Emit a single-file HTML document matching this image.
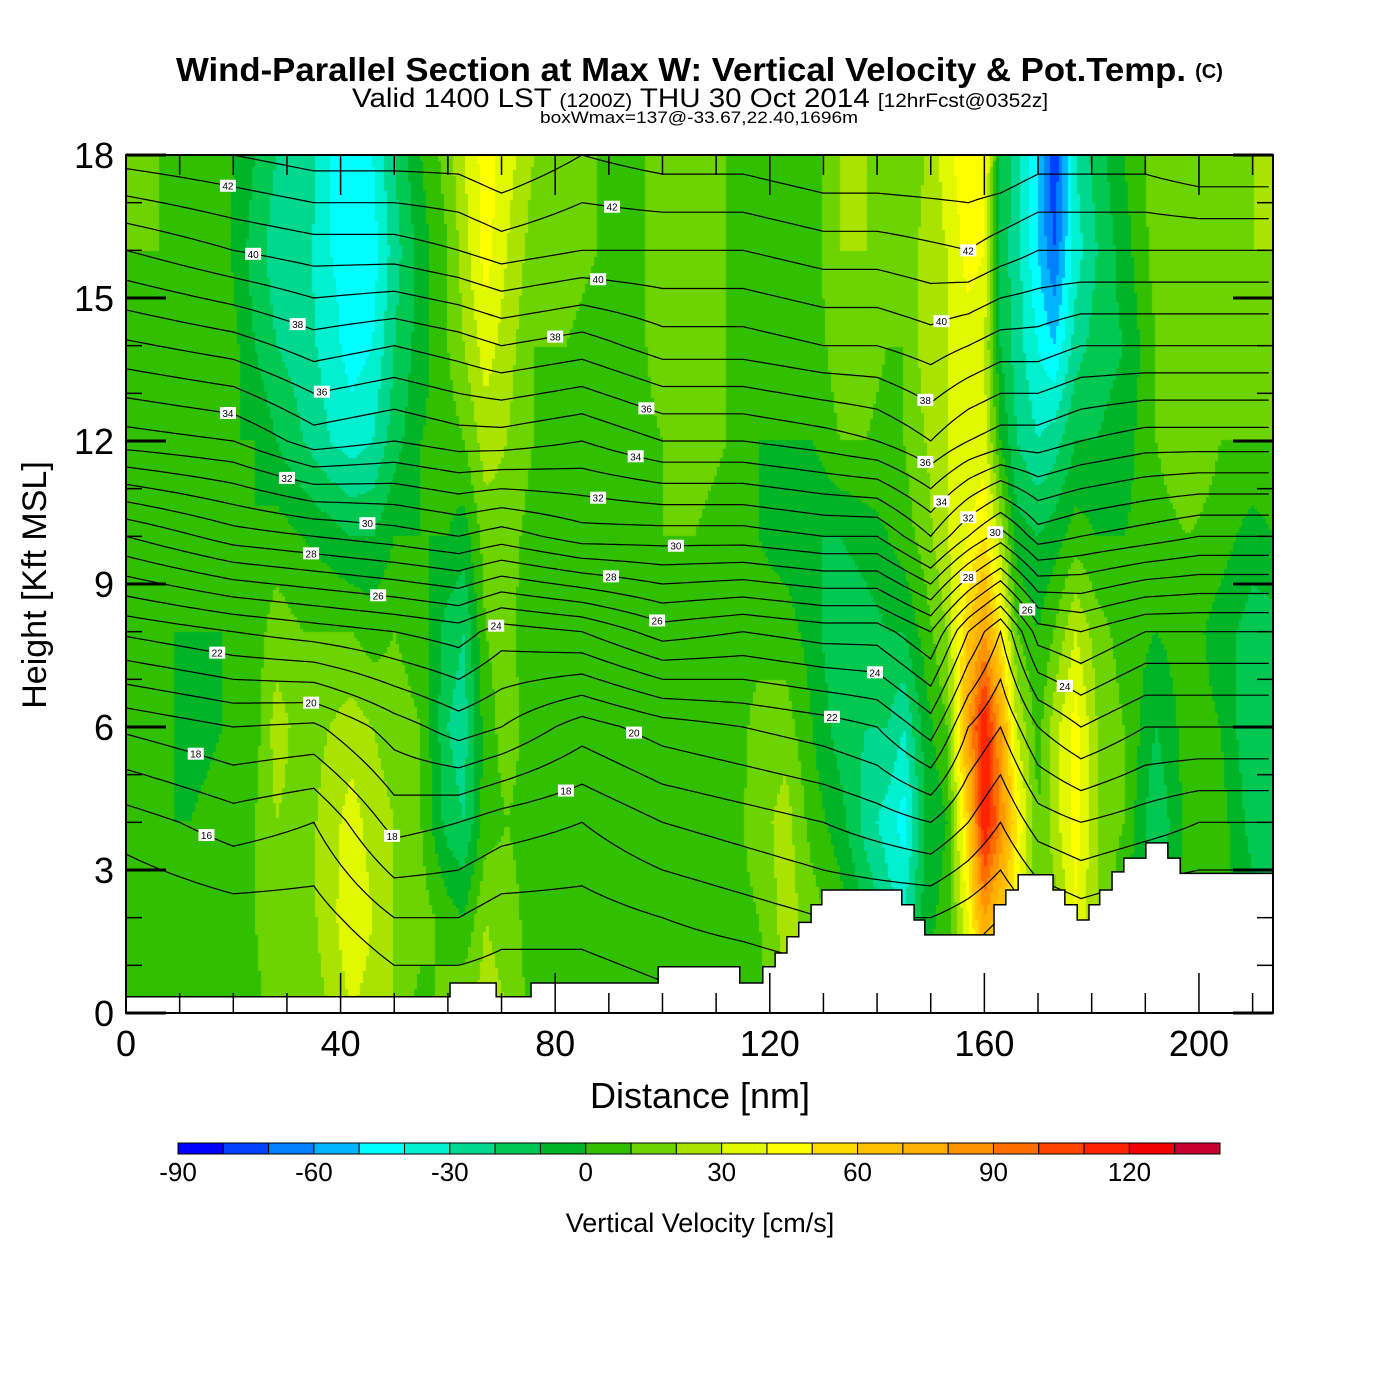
<!DOCTYPE html>
<html><head><meta charset="utf-8"><style>
body{margin:0;background:#fff;width:1400px;height:1400px;overflow:hidden;font-family:"Liberation Sans",sans-serif}
#wrap{position:relative;width:1400px;height:1400px}
canvas{position:absolute;left:126px;top:155px}
svg{position:absolute;left:0;top:0}
</style></head><body><div id="wrap">
<canvas id="cv" width="1147" height="858"></canvas>
<svg id="sv" width="1400" height="1400"></svg>
</div>
<script>
// ---- data ----
const wDist=[0,6,12,18,24,28,33,38,42,46,50,55,60,63,67,71,76,82,88,94,100,106,112,118,123,128,133,138,142,145,149,153,157,160,163,166,170,173,177,181,186,192,198,204,210,214];
const wHeights=[0,2,4,6,8,10,12,14,16,18];
const wCols=[
[5,0,5,5,0,0,5,10,10,15],[5,0,0,5,0,5,5,5,10,10],[3,0,0,-5,0,0,5,5,5,10],[5,5,5,0,0,0,0,10,5,5],
[5,10,10,5,5,0,0,-10,-15,-10],[20,20,20,25,15,5,-10,-20,-25,-20],[15,15,15,15,10,0,-20,-25,-25,-20],
[20,25,25,20,10,-5,-30,-35,-40,-40],[30,40,35,25,10,-10,-35,-45,-45,-40],[25,30,25,20,5,-10,-30,-40,-45,-40],
[20,20,20,15,10,0,-15,-20,-25,-20],[5,15,10,10,5,0,0,-5,-5,0],[15,5,-15,-20,-15,0,5,10,10,15],
[20,0,-20,-25,-20,-5,10,20,25,30],[25,20,5,5,10,15,25,35,45,45],[20,15,10,15,15,15,20,25,30,35],
[5,5,5,5,0,5,10,10,15,20],[0,5,0,5,5,0,5,10,15,20],[0,5,5,0,0,0,0,5,10,10],[0,0,0,5,0,0,5,5,5,5],
[5,5,5,5,5,10,10,15,15,15],[0,5,5,5,5,10,15,15,15,15],[0,5,5,0,5,5,10,10,10,10],[5,10,15,15,5,0,0,5,5,5],
[20,25,25,15,5,-5,0,5,5,5],[15,15,5,0,-5,-10,0,5,5,5],[10,5,-5,-15,-20,-10,10,15,20,20],
[10,-10,-25,-20,-15,-5,10,15,20,20],[10,-25,-35,-20,-10,0,5,10,15,15],[5,-30,-45,-30,-10,5,10,10,10,10],
[5,-5,-10,-5,5,15,20,25,25,20],[5,5,0,10,20,30,30,30,30,35],[20,40,60,80,60,40,30,35,45,50],
[40,80,120,120,80,50,35,30,40,45],[30,60,90,80,50,25,0,-10,-15,-10],[20,40,50,30,10,-5,-20,-25,-25,-25],
[10,15,10,5,0,-10,-30,-40,-50,-50],[5,15,25,25,10,-5,-25,-50,-70,-80],[5,40,45,45,30,5,-10,-25,-35,-30],
[5,20,20,20,15,0,-10,-15,-20,-15],[0,0,10,10,5,0,-5,-10,-5,0],[5,-15,-20,-10,0,5,10,10,15,15],
[5,5,5,5,5,10,20,20,20,15],[5,5,5,0,-5,5,10,15,15,15],[5,-5,-15,-20,-15,-5,10,15,20,20],[5,-10,-15,-20,-15,0,10,20,20,20]];
const thDist=[0,20,35,50,62,70,85,100,115,130,140,150,157,163,170,178,190,200,214];
const thCols=[
[12.5,14,15.5,18.2,22.2,27,32.5,35.8,39,42.5],[13,14.5,16.5,19,23,28.5,33,36.5,40,43],
[13,14.5,16,18.8,23.5,29,34.5,37.5,40.5,43.5],[14,16,18.4,20.5,24,29.5,34,37,40.5,43.5],
[14,16,18,21.5,24.5,30,34.5,37.5,41,43.5],[14,15.5,17.5,21,23.5,29.5,34.5,38,41.5,44],
[14,15.5,17,19.5,24,30.5,34,37.5,41,43],[14.5,16,18,20.5,25.5,30.5,35,38.5,41,43.5],
[14.5,16.5,18.5,21,25,30.5,35,38.5,41,43.5],[15,17,19,21.5,25.5,31,35.5,39,41.5,44],
[15,17,19.5,22,25.5,31,36,39,41.5,44],[15,17,20,23.5,27,33,37,39.5,41.8,44],
[15,16.5,19,21,24,31,36,39,42,44],[14.5,16,18,20,22,29.5,35.5,38.5,41.5,44],
[15,17,19.5,22,25.5,31.5,35.5,38.5,41,43.5],[15,17.5,20,23,26,31,35,38,41,43.5],
[15,17,19.5,22,25,30.5,34.5,38,41,43.5],[15,17,19,22,25,30,34.5,38,41,44],[15,17,19,22,25,30,34.5,38,41,44]];
const thLevels=[15,16,17,18,19,20,21,22,23,24,25,26,27,28,29,30,31,32,33,34,35,36,37,38,39,40,41,42,43];
const labelLevels=[42,42,42,40,40,40,38,38,38,36,36,36,34,34,34,32,32,32,30,30,30,28,28,28,26,26,26,24,24,24,22,22,20,20,18,18,18,16];
const labelDist=[19,90.6,157,23.7,88,152,32,80,149,36.5,97,149,19,95,152,30,88,157,45,102.5,162,34.5,90.4,157,47,99,168,69,139.6,175,17,131.6,34.5,94.7,13,82,49.6,15];
const terrEdges=[0,60.4,69,75.5,99.2,114.4,118.7,121,123.2,125.4,127.7,129.7,134,144.6,146.9,148.9,161.8,164,166.3,172.8,175,177.3,179.5,181.5,183.8,186,190.1,194.2,196.5,213.8];
const terrH=[0.34,0.63,0.34,0.63,0.97,0.63,0.97,1.26,1.6,1.9,2.27,2.58,2.58,2.27,1.95,1.64,2.27,2.58,2.9,2.58,2.27,1.95,2.27,2.58,2.96,3.25,3.57,3.25,2.93];
const cbColors=['#0000ff','#0040ff','#0080ff','#00b4ff','#00ffff','#00f0d0','#00d890','#00c850','#00b428','#30c000','#6cd400','#a8e400','#e0f800','#ffff00','#ffdc00','#ffc000','#ffb000','#ff9400','#ff6e00','#ff4400','#ff2400','#f00000','#c80030'];
const cbTicks=[-90,-60,-30,0,30,60,90,120];
const xTicks=[0,40,80,120,160,200];
const yTicks=[0,3,6,9,12,15,18];
// ---- axes ----
const X0=126,X1=1273,Y0=1013,Y1=155,XMAX=213.8,ZMAX=18;
const sx=d=>X0+d/XMAX*(X1-X0), sy=z=>Y0-z/ZMAX*(Y0-Y1);
const cbx=v=>178+(v+90)/230*(1220-178);
function interp1(xs,ys,x){if(x<=xs[0])return ys[0];for(let i=1;i<xs.length;i++){if(x<=xs[i]){const t=(x-xs[i-1])/(xs[i]-xs[i-1]);return ys[i-1]+t*(ys[i]-ys[i-1]);}}return ys[ys.length-1];}
function field(dists,cols,d,z){
 let i=0;while(i<dists.length-2&&d>dists[i+1])i++;
 const t=Math.max(0,Math.min(1,(d-dists[i])/(dists[i+1]-dists[i])));
 const a=interp1(wHeights,cols[i],z),b=interp1(wHeights,cols[i+1],z);return a+t*(b-a);}
// heatmap
const cv=document.getElementById('cv'),ctx=cv.getContext('2d');
const STEP=3;
for(let py=0;py<858;py+=STEP){const z=ZMAX*(1-(py+STEP/2)/858);
 for(let px=0;px<1147;px+=STEP){const d=XMAX*(px+STEP/2)/1147;
  const w=field(wDist,wCols,d,z);let k=Math.floor((w+90)/10);k=Math.max(0,Math.min(22,k));
  ctx.fillStyle=cbColors[k];ctx.fillRect(px,py,STEP,STEP);}}
// svg
const NS='http://www.w3.org/2000/svg',sv=document.getElementById('sv');
function mk(t,a,p){const e=document.createElementNS(NS,t);for(const k in a)e.setAttribute(k,a[k]);(p||sv).appendChild(e);return e;}
const gC=mk('g',{});


function levelZ(d,lev){let col=[];for(let j=0;j<10;j++)col.push(field(thDist,thCols,d,wHeights[j]));
 for(let j=1;j<10;j++){if(lev<=col[j]){const t=(lev-col[j-1])/(col[j]-col[j-1]);return wHeights[j-1]+2*Math.max(0,Math.min(1,t));}}return null;}
thLevels.forEach(lev=>{let pts=[];for(let d=0;d<=XMAX;d+=1){const z=levelZ(d,lev);if(z!==null)pts.push(sx(d).toFixed(1)+','+sy(z).toFixed(1));}
 const p=mk('polyline',{points:pts.join(' '),fill:'none',stroke:'#000','stroke-width':1.2},gC);
 
 });
// terrain
let tp=[sx(0)+','+Y0];for(let i=0;i<terrH.length;i++){tp.push(sx(terrEdges[i])+','+sy(terrH[i]));tp.push(sx(terrEdges[i+1])+','+sy(terrH[i]));}tp.push(sx(XMAX)+','+Y0);
const ter=mk('polygon',{points:tp.join(' '),fill:'#fff',stroke:'#000','stroke-width':1.5});


// labels
labelLevels.forEach((lev,i)=>{const d=labelDist[i];const z=levelZ(d,lev);if(z===null)return;
 const g=mk('g',{});
 
 
 mk('rect',{x:sx(d)-8,y:sy(z)-6,width:16,height:12,fill:'#fff'},g);
 const t=mk('text',{x:sx(d),y:sy(z)+4,'font-size':10,'text-anchor':'middle','font-family':'Liberation Sans'},g);t.textContent=lev;});
// frame & ticks
const fr=mk('rect',{x:X0,y:Y1,width:X1-X0,height:Y0-Y1,fill:'none',stroke:'#000','stroke-width':2});


for(let d=0;d<=XMAX;d+=10){const L=d%40===0?40:20;
 mk('line',{x1:sx(d),x2:sx(d),y1:Y0,y2:Y0-L,stroke:'#000','stroke-width':1.5});
 mk('line',{x1:sx(d),x2:sx(d),y1:Y1,y2:Y1+L,stroke:'#000','stroke-width':1.5});}
for(let z=0;z<=18;z+=1){const L=z%3===0?40:16;
 mk('line',{x1:X0,x2:X0+L,y1:sy(z),y2:sy(z),stroke:'#000','stroke-width':z%3===0?3:1.5});
 mk('line',{x1:X1,x2:X1-L,y1:sy(z),y2:sy(z),stroke:'#000','stroke-width':z%3===0?3:1.5});}
xTicks.forEach(v=>{const t=mk('text',{x:sx(v),y:1056,'font-size':36,'text-anchor':'middle'});t.textContent=v;
 
 });
yTicks.forEach(v=>{const t=mk('text',{x:114,y:sy(v)+13,'font-size':36,'text-anchor':'end'});t.textContent=v;
 
 });
function txt(x,y,s,str,name,extra){const t=mk('text',Object.assign({x:x,y:y,'font-size':s,'text-anchor':'middle'},extra||{}));t.textContent=str;
 
 return t;}
txt(700,1108,36,'Distance [nm]','x-axis-title');
txt(46,585,34,'Height [Kft MSL]','y-axis-title',{transform:'rotate(-90 46 585)'});
txt(176,81,33,'Wind-Parallel Section at Max W: Vertical Velocity & Pot.Temp.','chart-title',{'font-weight':'bold','text-anchor':'start',textLength:1010,lengthAdjust:'spacingAndGlyphs'});
txt(1209,78,20,'(C)','copyright',{'font-weight':'bold'});
const st=mk('text',{x:352,y:107,'font-size':27,'text-anchor':'start',textLength:696,lengthAdjust:'spacingAndGlyphs'});


st.innerHTML='Valid 1400 LST <tspan font-size="19">(1200Z)</tspan> THU 30 Oct 2014 <tspan font-size="19">[12hrFcst@0352z]</tspan>';
txt(540,123,17,'boxWmax=137@-33.67,22.40,1696m','box-wmax-note',{'text-anchor':'start',textLength:318,lengthAdjust:'spacingAndGlyphs'});
// colorbar
cbColors.forEach((c,i)=>{const r=mk('rect',{x:cbx(-90+i*10),y:1143,width:cbx(-80+i*10)-cbx(-90+i*10),height:11,fill:c,stroke:'#000','stroke-width':1});
 
 });
cbTicks.forEach(v=>{txt(cbx(v),1181,26,v,'colorbar-tick-label');});
txt(700,1232,27,'Vertical Velocity [cm/s]','colorbar-title');
</script></body></html>
